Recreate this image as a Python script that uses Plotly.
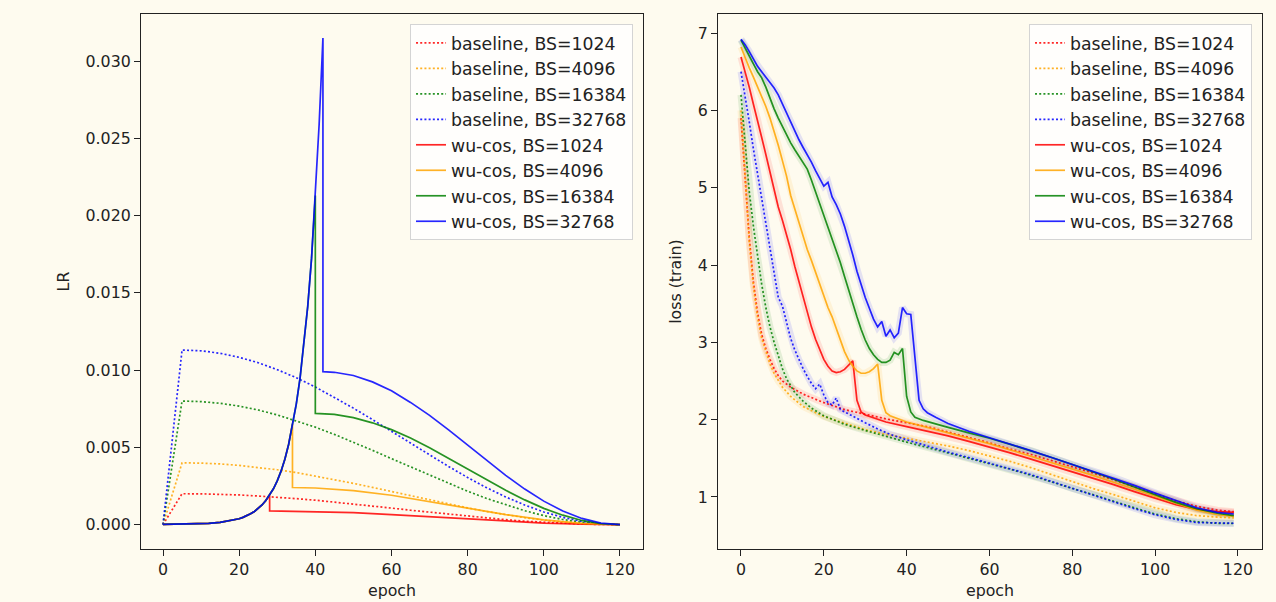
import plotly.graph_objects as go
from plotly.subplots import make_subplots

# ---------------- dados ----------------
BATCH_SIZES = [1024, 4096, 16384, 32768]
COLORS = ["255,0,0", "255,165,0", "0,128,0", "0,0,255"]

# LR baseline (warmup 5 epochs + cosine)
base_epochs = [0, 5, 10, 15, 20, 25, 30, 35, 40, 45, 50, 55, 60, 65, 70, 75, 80,
               85, 90, 95, 100, 105, 110, 115, 120]
base_lr_1024 = [0, .002, .00199, .00196, .00192, .00185, .00178, .00168, .00158,
                .00146, .00133, .0012, .00107, .00093, .0008, .00067, .00054,
                .00042, .00032, .00022, .00015, .00008, .00004, .00001, 0]
base_lr_4096 = [0, .004, .00398, .00393, .00383, .00371, .00355, .00337, .00315,
                .00292, .00267, .00241, .00214, .00186, .00159, .00133, .00108,
                .00085, .00064, .00045, .00029, .00017, .00007, .00002, 0]
base_lr_16384 = [0, .008, .00796, .00785, .00767, .00742, .0071, .00673, .00631,
                 .00584, .00534, .00481, .00427, .00373, .00319, .00266, .00216,
                 .00169, .00127, .0009, .00058, .00033, .00015, .00004, 0]
base_lr_32768 = [0, .0113, .01125, .01109, .01083, .01048, .01003, .00951, .00891,
                 .00825, .00754, .0068, .00604, .00526, .0045, .00376, .00305,
                 .00239, .00179, .00127, .00082, .00047, .00021, .00005, 0]

# LR wu-cos: subida comum ate o ponto de troca, depois queda + cosine
rise_epochs = [0, 5, 10, 12, 15, 18, 20, 21, 22, 23, 24, 25, 26, 27, 28, 29, 30,
               31, 32, 33, 34, 35, 36, 37, 38, 39, 40, 41, 42]
rise_lr = [.00001, .00002, .00005, .00008, .00014, .00026, .00038, .00047, .00057,
           .0007, .00085, .00104, .00127, .00156, .0019, .00232, .00283, .00346,
           .00423, .0052, .0065, .0078, .0095, .0116, .0141, .0172, .0213, .0259,
           .0315]
wu_switch = [28, 34, 40, 42]

wu_ep_1024 = [28, 40, 50, 60, 70, 80, 90, 100, 110, 120]
wu_lr_1024 = [.00089, .00085, .00077, .00065, .00051, .00035, .00021, .0001, .00003, 0]
wu_ep_4096 = [34, 40, 50, 60, 70, 80, 90, 100, 110, 115, 120]
wu_lr_4096 = [.0024, .00237, .0022, .0019, .0015, .00107, .00065, .00031, .00008, .00002, 0]
wu_ep_16384 = [40, 45, 50, 55, 60, 65, 70, 75, 80, 85, 90, 95, 100, 105, 110, 115, 120]
wu_lr_16384 = [.0072, .00713, .00693, .00659, .00615, .0056, .00498, .0043, .0036,
               .0029, .00222, .0016, .00105, .00061, .00027, .00007, 0]
wu_ep_32768 = [42, 45, 50, 55, 60, 65, 70, 75, 80, 85, 90, 95, 100, 105, 110, 115, 120]
wu_lr_32768 = [.0099, .00986, .00965, .00924, .00866, .00791, .00707, .00613, .00515,
               .00416, .00319, .0023, .00152, .00088, .0004, .0001, 0]

# loss (train) baseline
bl_ep_1024 = [0, 1, 2, 3, 4, 5, 6, 7, 8, 9, 10, 12, 15, 20, 25, 30, 35, 40, 45, 50,
              55, 60, 65, 70, 75, 80, 85, 90, 95, 100, 105, 110, 115, 119]
bl_loss_1024 = [5.9, 5.05, 4.35, 3.78, 3.38, 3.1, 2.92, 2.78, 2.66, 2.57, 2.5, 2.42,
                2.33, 2.22, 2.13, 2.07, 2.01, 1.96, 1.91, 1.84, 1.77, 1.7, 1.62, 1.55,
                1.47, 1.39, 1.31, 1.22, 1.13, 1.04, .95, .88, .83, .81]
bl_ep_4096 = bl_ep_1024
bl_loss_4096 = [6.0, 5.1, 4.3, 3.72, 3.32, 3.05, 2.87, 2.72, 2.6, 2.5, 2.42, 2.3,
                2.17, 2.04, 1.95, 1.87, 1.81, 1.76, 1.71, 1.66, 1.6, 1.53, 1.46, 1.38,
                1.29, 1.19, 1.11, 1.03, .94, .86, .8, .76, .74, .73]
bl_ep_16384 = [0, 1, 2, 3, 4, 5, 6, 7, 8, 9, 10, 11, 12, 13, 15, 17, 20, 25, 30, 35,
               40, 45, 50, 55, 60, 65, 70, 75, 80, 85, 90, 95, 100, 105, 110, 115, 119]
bl_loss_16384 = [6.2, 5.55, 4.95, 4.5, 4.1, 3.75, 3.45, 3.2, 3.0, 2.82, 2.66, 2.53,
                 2.43, 2.35, 2.24, 2.15, 2.05, 1.94, 1.86, 1.78, 1.71, 1.64, 1.57, 1.5,
                 1.43, 1.36, 1.28, 1.2, 1.11, 1.03, .94, .86, .78, .72, .68, .66, .66]
bl_ep_32768 = [0, 1, 2, 3, 4, 5, 6, 7, 8, 9, 10, 11, 12, 13, 14, 15, 16, 17, 18, 19,
               20, 21, 22, 23, 24, 25, 27, 30, 33, 36, 40, 45, 50, 55, 60, 65, 70, 75,
               80, 85, 90, 95, 100, 105, 110, 115, 119]
bl_loss_32768 = [6.5, 6.2, 5.85, 5.5, 5.18, 4.88, 4.55, 4.2, 3.87, 3.58, 3.47, 3.25,
                 3.05, 2.9, 2.77, 2.66, 2.56, 2.47, 2.4, 2.46, 2.32, 2.22, 2.19, 2.28,
                 2.13, 2.1, 2.04, 1.96, 1.88, 1.81, 1.74, 1.66, 1.58, 1.51, 1.44, 1.37,
                 1.29, 1.2, 1.11, 1.02, .93, .85, .77, .71, .67, .66, .66]

# loss (train) wu-cos
wl_ep_1024 = [0, 1, 2, 3, 4, 5, 6, 7, 8, 9, 10, 11, 12, 13, 14, 15, 16, 17, 18, 19,
              20, 21, 22, 23, 24, 25, 26, 27, 28, 29, 30, 32, 35, 40, 45, 50, 55, 60,
              65, 70, 75, 80, 85, 90, 95, 100, 105, 110, 115, 119]
wl_loss_1024 = [6.69, 6.5, 6.3, 6.08, 5.88, 5.65, 5.43, 5.2, 4.97, 4.75, 4.58, 4.4,
                4.2, 3.98, 3.78, 3.58, 3.38, 3.2, 3.04, 2.9, 2.78, 2.69, 2.63, 2.61,
                2.62, 2.65, 2.7, 2.76, 2.25, 2.1, 2.06, 2.02, 1.97, 1.91, 1.85, 1.79,
                1.72, 1.65, 1.57, 1.49, 1.41, 1.33, 1.25, 1.16, 1.07, .98, .9, .84,
                .81, .8]
wl_ep_4096 = [0, 1, 2, 3, 4, 5, 6, 7, 8, 9, 10, 11, 12, 13, 14, 15, 16, 17, 18, 19,
              20, 21, 22, 23, 24, 25, 26, 27, 28, 29, 30, 31, 32, 33, 34, 35, 36, 38,
              40, 45, 50, 55, 60, 65, 70, 75, 80, 85, 90, 95, 100, 105, 110, 115, 119]
wl_loss_4096 = [6.82, 6.68, 6.55, 6.43, 6.31, 6.18, 6.05, 5.9, 5.73, 5.55, 5.35, 5.15,
                4.9, 4.72, 4.55, 4.38, 4.2, 4.06, 3.9, 3.74, 3.6, 3.45, 3.33, 3.18,
                3.04, 2.88, 2.77, 2.69, 2.63, 2.6, 2.6, 2.62, 2.66, 2.72, 2.25, 2.09,
                2.05, 2.01, 1.97, 1.9, 1.83, 1.76, 1.69, 1.61, 1.53, 1.45, 1.36, 1.28,
                1.19, 1.1, 1.0, .91, .83, .77, .75]
wl_ep_16384 = [0, 1, 2, 3, 4, 5, 6, 7, 8, 9, 10, 11, 12, 13, 14, 15, 16, 17, 18, 19,
               20, 21, 22, 23, 24, 25, 26, 27, 28, 29, 30, 31, 32, 33, 34, 35, 36, 37,
               38, 39, 40, 41, 42, 44, 47, 50, 55, 60, 65, 70, 75, 80, 85, 90, 95, 100,
               105, 110, 115, 119]
wl_loss_16384 = [6.91, 6.8, 6.69, 6.6, 6.5, 6.42, 6.3, 6.15, 6.02, 5.9, 5.79, 5.68,
                 5.58, 5.49, 5.41, 5.32, 5.24, 5.1, 4.95, 4.8, 4.65, 4.5, 4.35, 4.2,
                 4.03, 3.85, 3.67, 3.5, 3.33, 3.17, 3.03, 2.92, 2.84, 2.78, 2.74, 2.74,
                 2.77, 2.87, 2.84, 2.92, 2.3, 2.1, 2.03, 1.99, 1.94, 1.9, 1.83, 1.76,
                 1.68, 1.6, 1.51, 1.42, 1.33, 1.23, 1.13, 1.03, .93, .85, .79, .76]
wl_ep_32768 = [0, 1, 2, 3, 4, 5, 6, 7, 8, 9, 10, 11, 12, 13, 14, 15, 16, 17, 18, 19,
               20, 21, 22, 23, 24, 25, 26, 27, 28, 29, 30, 31, 32, 33, 34, 35, 36, 37,
               38, 39, 40, 41, 42, 43, 44, 45, 47, 50, 55, 60, 65, 70, 75, 80, 85, 90,
               95, 100, 105, 110, 115, 119]
wl_loss_32768 = [6.92, 6.85, 6.76, 6.66, 6.57, 6.5, 6.43, 6.36, 6.29, 6.2, 6.08, 5.96,
                 5.85, 5.73, 5.62, 5.52, 5.43, 5.33, 5.22, 5.12, 5.02, 5.07, 4.88, 4.78,
                 4.66, 4.5, 4.32, 4.13, 3.92, 3.74, 3.58, 3.44, 3.3, 3.2, 3.27, 3.08,
                 3.16, 3.06, 3.12, 3.45, 3.37, 3.36, 2.75, 2.25, 2.14, 2.09, 2.03, 1.95,
                 1.85, 1.77, 1.68, 1.6, 1.51, 1.42, 1.34, 1.25, 1.15, 1.05, .95, .86,
                 .8, .78]

base_lr = [base_lr_1024, base_lr_4096, base_lr_16384, base_lr_32768]
wu_ep = [wu_ep_1024, wu_ep_4096, wu_ep_16384, wu_ep_32768]
wu_lr = [wu_lr_1024, wu_lr_4096, wu_lr_16384, wu_lr_32768]
bl_ep = [bl_ep_1024, bl_ep_4096, bl_ep_16384, bl_ep_32768]
bl_loss = [bl_loss_1024, bl_loss_4096, bl_loss_16384, bl_loss_32768]
wl_ep = [wl_ep_1024, wl_ep_4096, wl_ep_16384, wl_ep_32768]
wl_loss = [wl_loss_1024, wl_loss_4096, wl_loss_16384, wl_loss_32768]

# ---------------- estilo ----------------
BG = "#fefbef"
FONT = "DejaVu Sans"
FS = 15.8
LW = 1.7
DOT = "2px,2.2px"


def cor(i, a=0.85):
    return f"rgba({COLORS[i]},{a})"


fig = make_subplots(rows=1, cols=2)

# faixa (desvio) em volta das curvas de loss
for i in range(4):
    for xs, ys in ((bl_ep[i], bl_loss[i]), (wl_ep[i], wl_loss[i])):
        fig.add_trace(go.Scatter(
            x=xs, y=ys, mode="lines", showlegend=False, hoverinfo="skip",
            line=dict(color=cor(i, 0.1), width=7)
        ), row=1, col=2)

# grafico LR
for i, bs in enumerate(BATCH_SIZES):
    fig.add_trace(go.Scatter(
        x=base_epochs, y=base_lr[i], mode="lines",
        name=f"baseline, BS={bs}", legend="legend",
        line=dict(color=cor(i), width=LW, dash=DOT)
    ), row=1, col=1)

for i, bs in enumerate(BATCH_SIZES):
    n = rise_epochs.index(wu_switch[i]) + 1
    fig.add_trace(go.Scatter(
        x=rise_epochs[:n] + wu_ep[i], y=rise_lr[:n] + wu_lr[i], mode="lines",
        name=f"wu-cos, BS={bs}", legend="legend",
        line=dict(color=cor(i), width=LW)
    ), row=1, col=1)

# grafico loss
for i, bs in enumerate(BATCH_SIZES):
    fig.add_trace(go.Scatter(
        x=bl_ep[i], y=bl_loss[i], mode="lines",
        name=f"baseline, BS={bs}", legend="legend2",
        line=dict(color=cor(i), width=LW, dash=DOT)
    ), row=1, col=2)

for i, bs in enumerate(BATCH_SIZES):
    fig.add_trace(go.Scatter(
        x=wl_ep[i], y=wl_loss[i], mode="lines",
        name=f"wu-cos, BS={bs}", legend="legend2",
        line=dict(color=cor(i), width=LW)
    ), row=1, col=2)

eixo = dict(
    showline=True, mirror=True, linecolor="#222", linewidth=1.1,
    ticks="outside", ticklen=6, tickwidth=1.1, tickcolor="#222",
    showgrid=False, zeroline=False,
    tickfont=dict(family=FONT, size=FS, color="#222"),
    title_font=dict(family=FONT, size=FS, color="#222"),
)
leg = dict(
    bgcolor="rgba(255,255,255,0.8)", bordercolor="#d4d4d4", borderwidth=1,
    font=dict(family=FONT, size=17.3, color="#222"),
    xanchor="right", yanchor="top", y=0.960,
)

fig.update_layout(
    width=1276, height=602,
    margin=dict(l=0, r=0, t=0, b=0),
    paper_bgcolor=BG, plot_bgcolor=BG,
    xaxis=dict(eixo, domain=[0.1105, 0.5039], range=[-5.78, 126.05],
               tickvals=[0, 20, 40, 60, 80, 100, 120],
               title=dict(text="epoch", standoff=6)),
    yaxis=dict(eixo, domain=[0.088, 0.9767], range=[-0.00158, 0.03305],
               tickvals=[0, 0.005, 0.01, 0.015, 0.02, 0.025, 0.03], tickformat=".3f",
               title=dict(text="LR", standoff=12)),
    xaxis2=dict(eixo, domain=[0.5627, 0.989], range=[-5.55, 125.8],
                tickvals=[0, 20, 40, 60, 80, 100, 120],
                title=dict(text="epoch", standoff=6)),
    yaxis2=dict(eixo, domain=[0.088, 0.9767], range=[0.327, 7.246],
                tickvals=[1, 2, 3, 4, 5, 6, 7],
                title=dict(text="loss (train)", standoff=12)),
    legend=dict(leg, x=0.4961),
    legend2=dict(leg, x=0.9812),
)

# tira a margem padrao do body para a figura ocupar a janela toda
fig.write_html(
    "out.html",
    config={"displayModeBar": False},
    post_script="document.body.style.margin='0';document.body.style.background='%s';" % BG,
)
